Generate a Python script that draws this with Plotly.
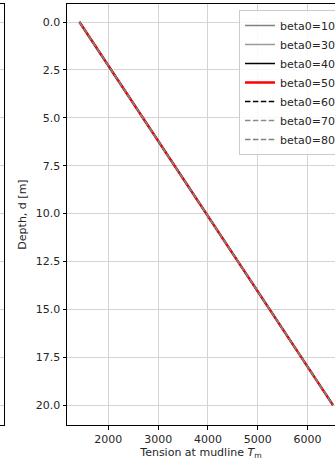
import plotly.graph_objects as go

# Data
depth = [0, 2.5, 5, 7.5, 10, 12.5, 15, 17.5, 20]
t_beta10 = [1420, 2056, 2693, 3329, 3965, 4601, 5238, 5874, 6510]
t_beta30 = [1420, 2056, 2693, 3329, 3965, 4601, 5238, 5874, 6510]
t_beta40 = [1420, 2056, 2693, 3329, 3965, 4601, 5238, 5874, 6510]
t_beta50 = [1420, 2056, 2693, 3329, 3965, 4601, 5238, 5874, 6510]
t_beta60 = [1420, 2056, 2693, 3329, 3965, 4601, 5238, 5874, 6510]
t_beta70 = [1420, 2056, 2693, 3329, 3965, 4601, 5238, 5874, 6510]
t_beta80 = [1420, 2056, 2693, 3329, 3965, 4601, 5238, 5874, 6510]
labels = ["beta0=10", "beta0=30", "beta0=40", "beta0=50", "beta0=60", "beta0=70", "beta0=80"]
y_ticks = [0.0, 2.5, 5.0, 7.5, 10.0, 12.5, 15.0, 17.5, 20.0]
x_ticks = [2000, 3000, 4000, 5000, 6000]

series = [t_beta10, t_beta30, t_beta40, t_beta50, t_beta60, t_beta70, t_beta80]
styles = [
    dict(color="#808080", width=1.5, dash="solid"),
    dict(color="#9a9a9a", width=1.5, dash="solid"),
    dict(color="#000000", width=1.5, dash="solid"),
    dict(color="#ff0000", width=2.5, dash="solid"),
    dict(color="#000000", width=1.5, dash="5.5px,2.4px"),
    dict(color="#8c8c8c", width=1.5, dash="5.5px,2.4px"),
    dict(color="#808080", width=1.5, dash="5.5px,2.4px"),
]

FONT = "DejaVu Sans"
FS = 11
fig = go.Figure()
for lab, vals, st in zip(labels, series, styles):
    fig.add_trace(go.Scatter(x=vals, y=depth, mode="lines", name=lab, line=st,
                             xaxis="x", yaxis="y"))

# remnant of neighbouring subplot on the left
fig.add_trace(go.Scatter(x=[0], y=[10], mode="markers", marker=dict(opacity=0),
                         showlegend=False, hoverinfo="skip", xaxis="x2", yaxis="y2"))

W, H = 335, 464
grid = "#d4d4d4"
fig.update_layout(
    width=W, height=H,
    margin=dict(l=0, r=0, t=4, b=39, pad=0, autoexpand=False),
    paper_bgcolor="white", plot_bgcolor="white",
    font=dict(family=FONT, size=FS, color="#262626"),
    showlegend=True,
    legend=dict(x=239 / W, y=1 - 6 / 421, xanchor="left", yanchor="top",
                bgcolor="rgba(255,255,255,0.85)", bordercolor="#cccccc", borderwidth=1,
                font=dict(family=FONT, size=FS, color="#262626"),
                tracegroupgap=0, itemwidth=30),
    xaxis=dict(domain=[67 / W, 1], range=[1170, 6550], tickvals=x_ticks,
               ticktext=[str(v) for v in x_ticks],
               showgrid=True, gridcolor=grid, gridwidth=1, zeroline=False,
               showline=True, linecolor="black", linewidth=1, mirror=True,
               ticks="outside", ticklen=3.5, tickcolor="black", tickwidth=1,
               tickfont=dict(family=FONT, size=FS),
               title=dict(text="Tension at mudline <i>T</i><sub>m</sub>",
                          font=dict(family=FONT, size=FS), standoff=3),
               anchor="y"),
    yaxis=dict(range=[21.04, -0.94], tickvals=y_ticks,
               ticktext=[f"{v:.1f}" for v in y_ticks],
               showgrid=True, gridcolor=grid, gridwidth=1, zeroline=False,
               showline=True, linecolor="black", linewidth=1, mirror=False,
               ticks="outside", ticklen=3.5, tickcolor="black", tickwidth=1,
               tickfont=dict(family=FONT, size=FS),
               title=dict(text="Depth, d [m]", font=dict(family=FONT, size=FS), standoff=6),
               anchor="x"),
    xaxis2=dict(domain=[0, 4 / W], range=[-1, 1], showgrid=False, zeroline=False,
                showticklabels=False, ticks="", showline=True, linecolor="black",
                linewidth=1, mirror=True, anchor="y2"),
    yaxis2=dict(range=[21.04, -0.94], tickvals=y_ticks, showgrid=True, gridcolor=grid,
                gridwidth=1, zeroline=False, showticklabels=False, ticks="",
                showline=True, linecolor="black", linewidth=1, side="right",
                anchor="x2"),
)

fig.write_html("out.html",
               config={"displayModeBar": False},
               post_script="document.body.style.margin='0';document.body.style.overflow='hidden';")
